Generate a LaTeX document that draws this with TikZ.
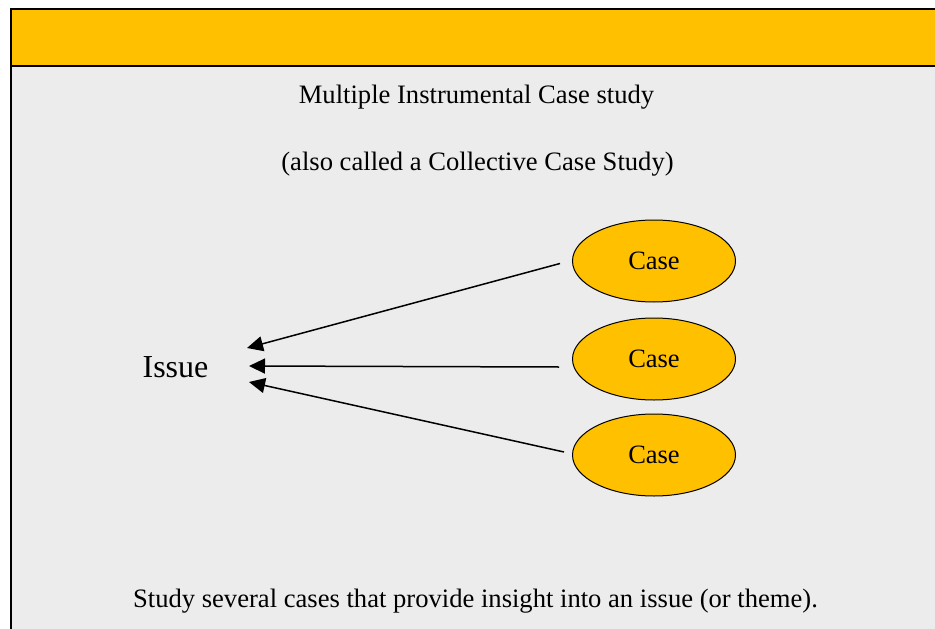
\documentclass[tikz,border=0pt]{standalone}
\usepackage{fontspec}
\setmainfont{Liberation Serif}
\usetikzlibrary{shapes.geometric,arrows.meta}
\definecolor{barorange}{HTML}{FFC000}
\definecolor{panelgray}{HTML}{ECECEC}
\tikzset{
  casebox/.style={ellipse,draw=black,line width=1pt,fill=barorange,minimum width=163pt,minimum height=82pt,inner sep=0pt,font=\fontsize{26.5}{30}\selectfont},
  bodytext/.style={inner sep=0pt,anchor=base,font=\fontsize{26.6}{30}\selectfont},
  arr/.style={line width=1.5pt,-{Triangle[length=16pt,width=15pt]}},
  frameline/.style={line width=2.6pt,draw=black}
}
\begin{document}
\begin{tikzpicture}[x=1pt,y=-1pt]
\useasboundingbox (0,0) rectangle (935,629);
\fill[white] (0,0) rectangle (935,629);
\fill[panelgray] (11,9) rectangle (935,629);
\fill[barorange] (11,9) rectangle (935,66);
\draw[frameline] (935,9) -- (11,9) -- (11,629);
\draw[frameline] (11,66) -- (935,66);

\node[bodytext] (title) at (476.5,103) {Multiple Instrumental Case study};
\node[bodytext] (sub) at (477.5,170) {(also called a Collective Case Study)};
\node[bodytext,font=\fontsize{32}{36}\selectfont] (issue) at (175.5,377) {Issue};
\node[bodytext] (foot) at (475.5,607) {Study several cases that provide insight into an issue (or theme).};

\node[casebox] (c1) at (654,261) {Case};
\node[casebox] (c2) at (654,359) {Case};
\node[casebox] (c3) at (654,455) {Case};

\coordinate (t1) at (247,348);
\coordinate (t2) at (249,366);
\coordinate (t3) at (249,382);

\draw[arr] ([xshift=-12pt,yshift=-2.5pt]c1.west) -- (t1);
\draw[arr] ([xshift=-13pt,yshift=-8pt]c2.west) -- (t2);
\draw[arr] ([xshift=-8pt,yshift=3pt]c3.west) -- (t3);
\end{tikzpicture}
\end{document}
